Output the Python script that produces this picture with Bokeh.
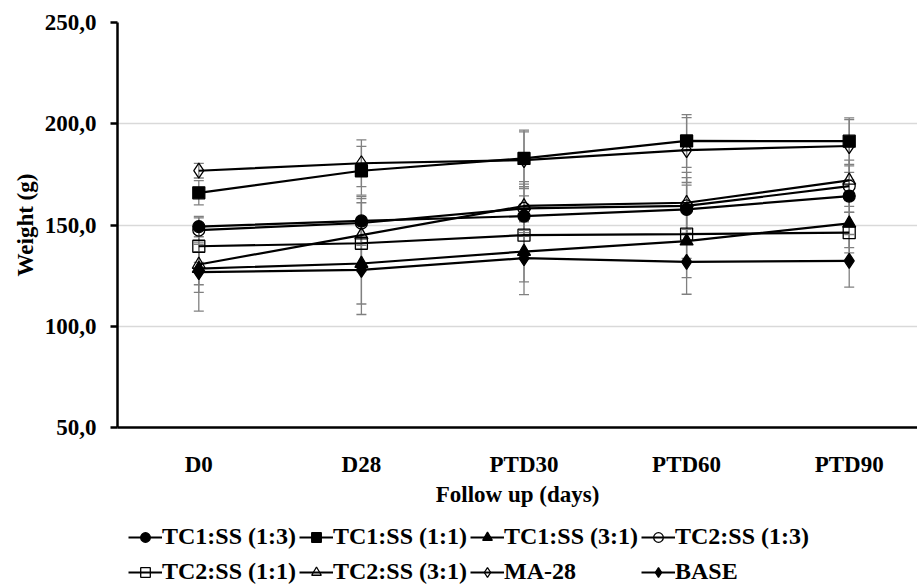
from bokeh.plotting import figure
from bokeh.models import (ColumnDataSource, Whisker, TeeHead, Legend, LegendItem,
                          FixedTicker, Range1d)
from bokeh.layouts import column
from bokeh.embed import file_html
from bokeh.resources import INLINE

categories = ["D0", "D28", "PTD30", "PTD60", "PTD90"]
y_ticks = [50, 100, 150, 200, 250]
y_tick_labels = ["50,0", "100,0", "150,0", "200,0", "250,0"]

series_names = ["TC1:SS (1:3)", "TC1:SS (1:1)", "TC1:SS (3:1)", "TC2:SS (1:3)",
                "TC2:SS (1:1)", "TC2:SS (3:1)", "MA-28", "BASE"]
tc1_13 = [149.2, 152.0, 154.4, 157.7, 164.3]
tc1_11 = [165.9, 176.8, 182.9, 191.5, 191.4]
tc1_31 = [128.5, 131.0, 136.9, 142.0, 150.8]
tc2_13 = [147.5, 151.0, 158.2, 159.4, 169.2]
tc2_11 = [139.5, 141.0, 145.0, 145.5, 146.2]
tc2_31 = [130.5, 145.0, 159.4, 161.0, 172.0]
ma28 = [176.8, 180.5, 182.0, 187.0, 189.0]
base = [126.7, 127.8, 133.6, 131.8, 132.3]

sd_tc1_13 = [5, 12, 10, 12, 8]
sd_tc1_11 = [6, 12, 14, 13, 11.5]
sd_tc1_31 = [21, 20, 15, 18, 12]
sd_tc2_13 = [6, 10, 12, 14, 10]
sd_tc2_11 = [8, 12, 10, 12, 10]
sd_tc2_31 = [10, 18, 12, 15, 10]
sd_ma28 = [3.6, 11.5, 14, 16, 13]
sd_base = [10, 22, 18, 16, 13]

values = [tc1_13, tc1_11, tc1_31, tc2_13, tc2_11, tc2_31, ma28, base]
sds = [sd_tc1_13, sd_tc1_11, sd_tc1_31, sd_tc2_13, sd_tc2_11, sd_tc2_31, sd_ma28, sd_base]
markers = ["circle", "square", "triangle", "circle", "square", "triangle", "diamond", "diamond"]
filled = [True, True, True, False, False, False, False, True]
sizes = [12, 12, 13, 12, 12, 13, 15, 15]

FONT = "Liberation Serif"

p = figure(frame_width=800, frame_height=405, output_backend="svg", toolbar_location=None,
           x_range=Range1d(-0.5, 4.42), y_range=Range1d(50, 250),
           min_border_left=117, min_border_top=22, min_border_right=0,
           min_border_bottom=90)
p.outline_line_color = None
p.background_fill_color = "white"
p.border_fill_color = "white"

xs = list(range(len(categories)))

# legend strip below the chart (its renderers use the same data, outside its view)
lg = figure(width=918, height=68, output_backend="svg", toolbar_location=None,
            x_range=Range1d(100, 101), y_range=Range1d(1000, 1001),
            x_axis_type=None, y_axis_type=None, min_border=0)
lg.outline_line_color = None
lg.xgrid.grid_line_color = None
lg.ygrid.grid_line_color = None

# error bars first
for v, sd in zip(values, sds):
    src = ColumnDataSource(dict(x=xs, lower=[a - b for a, b in zip(v, sd)],
                                upper=[a + b for a, b in zip(v, sd)]))
    w = Whisker(base="x", lower="lower", upper="upper", source=src,
                line_color="#808080", line_width=1.3,
                upper_head=TeeHead(size=10, line_color="#808080", line_width=1.3),
                lower_head=TeeHead(size=10, line_color="#808080", line_width=1.3))
    p.add_layout(w)

items = []
for name, v, mk, fl, sz in zip(series_names, values, markers, filled, sizes):
    src = ColumnDataSource(dict(x=xs, y=v))
    style_l = dict(line_color="black", line_width=2.2)
    style_s = dict(marker=mk, line_color="black", line_width=1.3,
                   fill_color="black" if fl else "white",
                   fill_alpha=1.0 if fl else 0.0)
    p.line("x", "y", source=src, **style_l)
    p.scatter("x", "y", source=src, size=sz, **style_s)
    ln = lg.line("x", "y", source=src, **style_l)
    sc = lg.scatter("x", "y", source=src, size=10, **style_s)
    items.append(LegendItem(label=name, renderers=[ln, sc]))

# axes
p.xaxis.ticker = FixedTicker(ticks=xs)
p.xaxis.major_label_overrides = {i: c for i, c in enumerate(categories)}
p.yaxis.ticker = FixedTicker(ticks=y_ticks)
p.yaxis.major_label_overrides = {t: l for t, l in zip(y_ticks, y_tick_labels)}

for ax in (p.xaxis[0], p.yaxis[0]):
    ax.axis_line_color = "black"
    ax.axis_line_width = 2.5
    ax.major_label_text_font = FONT
    ax.major_label_text_font_style = "bold"
    ax.major_label_text_font_size = "23px"
    ax.major_label_text_color = "black"
    ax.axis_label_text_font = FONT
    ax.axis_label_text_font_style = "bold"
    ax.axis_label_text_font_size = "23px"
    ax.axis_label_text_color = "black"
    ax.minor_tick_line_color = None

p.xaxis.major_tick_line_color = None
p.xaxis.major_label_standoff = 18
p.xaxis.axis_label = "Follow up (days)"
p.xaxis.axis_label_standoff = 2

p.yaxis.major_tick_line_color = "black"
p.yaxis.major_tick_line_width = 2.5
p.yaxis.major_tick_out = 7
p.yaxis.major_tick_in = 0
p.yaxis.major_label_standoff = 14
p.yaxis.axis_label = "Weight (g)"
p.yaxis.axis_label_standoff = 4

p.xgrid.grid_line_color = None
p.ygrid.grid_line_color = "#d9d9d9"
p.ygrid.grid_line_width = 1.5

legend_style = dict(orientation="horizontal",
                    label_text_font=FONT, label_text_font_style="bold",
                    label_text_font_size="24px", label_text_color="black",
                    glyph_width=34, glyph_height=24, label_standoff=0,
                    label_width=136, label_height=24,
                    spacing=1, padding=0, margin=0,
                    border_line_color=None, background_fill_alpha=0)
# the legend strip's frame is aligned with the chart's frame (left edge at 117px)
legend1 = Legend(items=items[:4], location=(11, 35), **legend_style)
legend2 = Legend(items=items[4:], location=(11, 0), **legend_style)
lg.add_layout(legend1)
lg.add_layout(legend2)

layout = column(p, lg, spacing=0)
open("out.html", "w").write(file_html(layout, INLINE))
